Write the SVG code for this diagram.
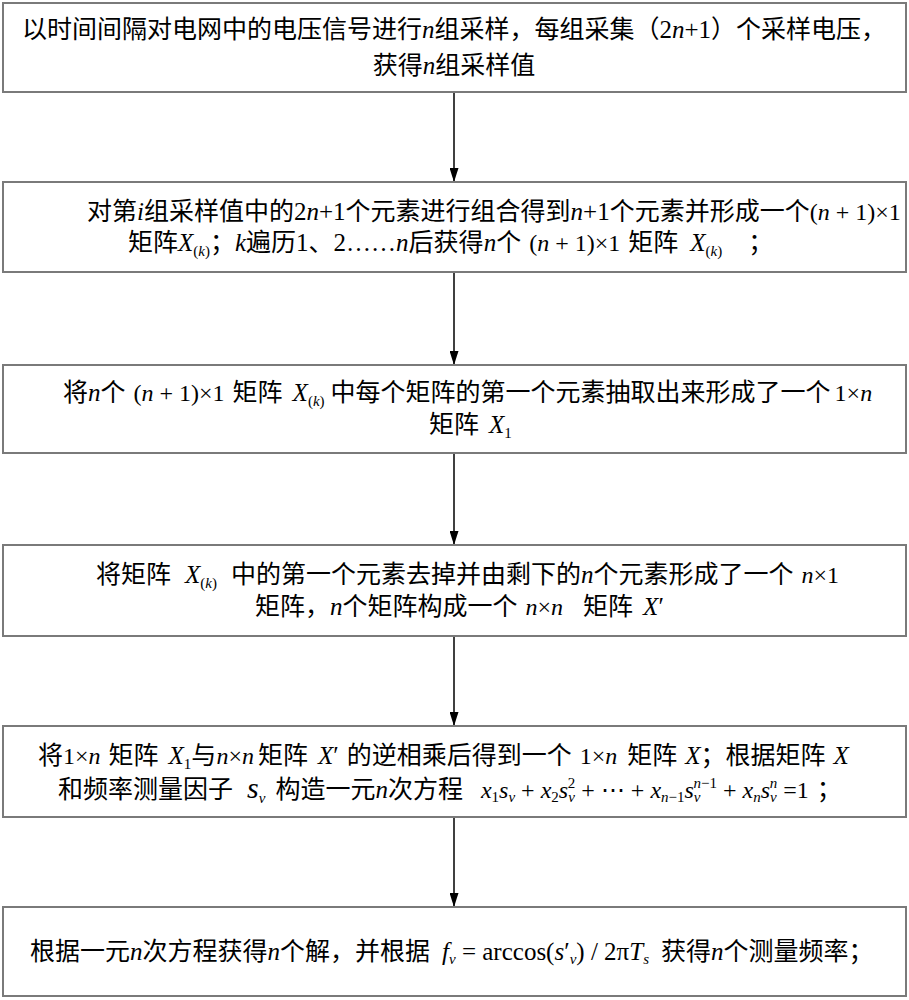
<svg xmlns="http://www.w3.org/2000/svg" width="909" height="1000" viewBox="0 0 909 1000">
<style>
.box{fill:#fff;stroke:#7a7a7a;stroke-width:2}
.t{font-family:'Liberation Serif','Noto Sans CJK SC',serif;font-size:25px;fill:#000}
.i{font-style:italic}
.m{font-size:24px}
.m2{font-size:25px}
.sb{font-size:15px}
.big{font-size:30px}
.dots{font-family:'DejaVu Serif',serif}
.conn line{stroke:#000;stroke-width:1.5;marker-end:url(#ah)}
</style>
<defs>
<marker id="ah" markerUnits="userSpaceOnUse" viewBox="0 0 14 9" refX="14" refY="4.5" markerWidth="14" markerHeight="9" orient="auto">
<path d="M0,0 L14,4.5 L0,9 z" fill="#000"/>
</marker>
</defs>
<rect width="909" height="1000" fill="#fff"/>
<g id="connectors" class="conn">
<line x1="454" y1="92" x2="454" y2="182"/>
<line x1="454" y1="272" x2="454" y2="365"/>
<line x1="454" y1="453" x2="454" y2="545"/>
<line x1="454" y1="636" x2="454" y2="726"/>
<line x1="454" y1="817" x2="454" y2="907"/>
</g>
<g id="node1">
<rect class="box" x="3" y="3" width="903" height="89"/>
<text class="t" x="454" y="38" text-anchor="middle">以时间间隔对电网中的电压信号进行<tspan class="i">n</tspan>组采样，每组采集（2<tspan class="i">n</tspan>+1）个采样电压，</text>
<text class="t" x="454" y="74" text-anchor="middle">获得<tspan class="i">n</tspan>组采样值</text>
</g>
<g id="node2">
<rect class="box" x="3" y="182" width="903" height="90"/>
<text class="t" x="87" y="220">对第<tspan class="i">i</tspan>组采样值中的2<tspan class="i">n</tspan>+1个元素进行组合得到<tspan class="i">n</tspan>+1个元素并形成一个<tspan class="m">(<tspan class="i">n</tspan> + 1)×1</tspan></text>
<text class="t" x="128" y="251">矩阵<tspan class="i">X</tspan><tspan class="sb" dy="5">(<tspan class="i">k</tspan>)</tspan><tspan dy="-5">；<tspan class="i">k</tspan>遍历1、2……<tspan class="i">n</tspan>后获得<tspan class="i">n</tspan>个</tspan><tspan class="m" dx="8">(<tspan class="i">n</tspan> + 1)×1</tspan><tspan dx="8">矩阵</tspan><tspan class="i" dx="12">X</tspan><tspan class="sb" dy="5">(<tspan class="i">k</tspan>)</tspan><tspan dy="-5" dx="26">；</tspan></text>
</g>
<g id="node3">
<rect class="box" x="3" y="365" width="903" height="88"/>
<text class="t" x="63" y="401">将<tspan class="i">n</tspan>个<tspan class="m" dx="8">(<tspan class="i">n</tspan> + 1)×1</tspan><tspan dx="8">矩阵</tspan><tspan class="i" dx="10">X</tspan><tspan class="sb" dy="5">(<tspan class="i">k</tspan>)</tspan><tspan dy="-5" dx="6">中每个矩阵的第一个元素抽取出来形成了一个</tspan><tspan class="m" dx="4">1×<tspan class="i">n</tspan></tspan></text>
<text class="t" x="429" y="433">矩阵<tspan class="i" dx="10">X</tspan><tspan class="sb" dy="5">1</tspan></text>
</g>
<g id="node4">
<rect class="box" x="3" y="545" width="903" height="91"/>
<text class="t" x="96" y="583">将矩阵<tspan class="i" dx="14">X</tspan><tspan class="sb" dy="5">(<tspan class="i">k</tspan>)</tspan><tspan dy="-5" dx="14">中的第一个元素去掉并由剩下的</tspan><tspan class="i">n</tspan>个元素形成了一个<tspan class="m i" dx="8">n</tspan><tspan class="m">×1</tspan></text>
<text class="t" x="255" y="615">矩阵，<tspan class="i">n</tspan>个矩阵构成一个<tspan class="m" dx="8"><tspan class="i">n</tspan>×<tspan class="i">n</tspan></tspan><tspan dx="20">矩阵</tspan><tspan class="i" dx="10">X</tspan>′</text>
</g>
<g id="node5">
<rect class="box" x="3" y="726" width="903" height="91"/>
<text class="t" x="38" y="764">将<tspan class="m">1×<tspan class="i">n</tspan></tspan><tspan dx="8">矩阵</tspan><tspan class="i" dx="10">X</tspan><tspan class="sb" dy="5">1</tspan><tspan dy="-5">与</tspan><tspan class="m"><tspan class="i">n</tspan>×<tspan class="i">n</tspan></tspan><tspan dx="4">矩阵</tspan><tspan class="i" dx="10">X</tspan>′<tspan dx="8">的逆相乘后得到一个</tspan><tspan class="m" dx="8">1×<tspan class="i">n</tspan></tspan><tspan dx="10">矩阵</tspan><tspan class="i" dx="8">X</tspan>；根据矩阵<tspan class="i" dx="8">X</tspan></text>
<text class="t" x="58" y="798">和频率测量因子<tspan class="big i" dx="14">s</tspan><tspan class="sb i" dy="5">v</tspan><tspan dy="-5" dx="10">构造一元</tspan><tspan class="i">n</tspan>次方程<tspan class="m i" dx="18">x</tspan><tspan class="sb" dy="4">1</tspan><tspan class="m i" dy="-4">s</tspan><tspan class="sb i" dy="4">v</tspan><tspan class="m" dy="-4"> + </tspan><tspan class="m i">x</tspan><tspan class="sb" dy="4">2</tspan><tspan class="m i" dy="-4">s</tspan><tspan class="sb i" dy="4">v</tspan><tspan class="sb" dx="-7" dy="-14">2</tspan><tspan class="m" dy="10"> + </tspan><tspan class="m dots">⋯</tspan><tspan class="m"> + </tspan><tspan class="m i">x</tspan><tspan class="sb" dy="4"><tspan class="i">n</tspan>−1</tspan><tspan class="m i" dy="-4">s</tspan><tspan class="sb i" dy="4">v</tspan><tspan class="sb" dx="-7" dy="-14"><tspan class="i">n</tspan>−1</tspan><tspan class="m" dy="10"> + </tspan><tspan class="m i">x</tspan><tspan class="sb i" dy="4">n</tspan><tspan class="m i" dy="-4">s</tspan><tspan class="sb i" dy="4">v</tspan><tspan class="sb i" dx="-7" dy="-14">n</tspan><tspan class="m" dy="10"> =1</tspan><tspan dx="8">；</tspan></text>
</g>
<g id="node6">
<rect class="box" x="3" y="907" width="903" height="89"/>
<text class="t" x="30" y="960">根据一元<tspan class="i">n</tspan>次方程获得<tspan class="i">n</tspan>个解，并根据<tspan class="m2 i" dx="12">f</tspan><tspan class="sb i" dy="4">v</tspan><tspan class="m2" dy="-4"> = arccos(</tspan><tspan class="m2 i">s</tspan><tspan class="m2">′</tspan><tspan class="sb i" dy="4">v</tspan><tspan class="m2" dy="-4">) / 2π</tspan><tspan class="m2 i">T</tspan><tspan class="sb i" dy="4">s</tspan><tspan dy="-4" dx="12">获得</tspan><tspan class="i">n</tspan>个测量频率；</text>
</g>
</svg>
